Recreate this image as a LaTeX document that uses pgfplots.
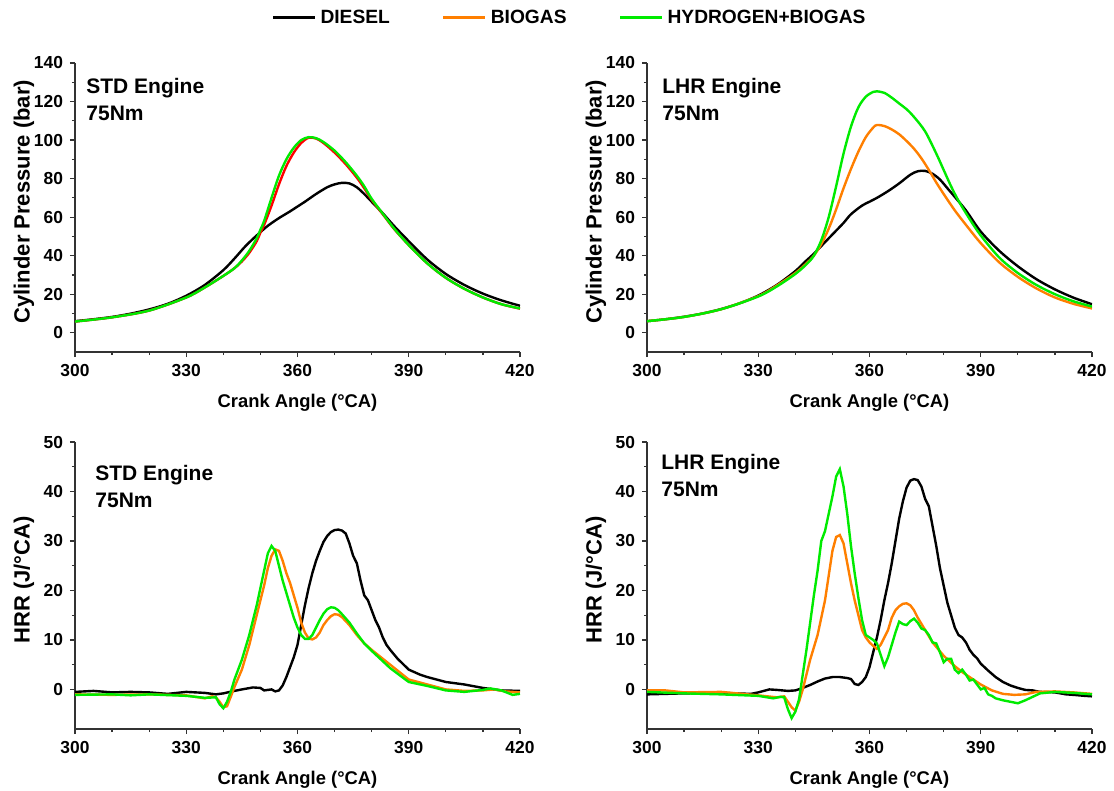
\documentclass[border=0pt]{standalone}
\usepackage{fontspec}
\setmainfont{Liberation Sans}
\usepackage{pgfplots}
\pgfplotsset{compat=1.18}
\definecolor{cOr}{RGB}{255,127,0}
\definecolor{cGr}{RGB}{0,235,0}
\definecolor{cRd}{RGB}{255,0,0}
\pgfplotsset{
 base/.style={
  scale only axis, width=222.5pt,
  xmin=300, xmax=420, xtick={300,330,...,420}, minor x tick num=2,
  axis x line=bottom, axis y line=left,
  axis line style={-, line width=0.6pt, black!80},
  tick align=outside, major tick length=2.5pt, minor tick length=1.5pt,
  tick style={line width=0.6pt, black!80},
  /pgf/number format/assume math mode=true,
  ticklabel style={font=\fontsize{8.7}{10}\selectfont\bfseries},
  every axis x label/.style={at={(axis description cs:0.5,0)}, anchor=north, yshift=-21pt, inner sep=0pt, font=\fontsize{9.2}{11}\selectfont\bfseries},
  every axis y label/.style={at={(axis description cs:-0.091,0.52)}, anchor=south, rotate=90, inner sep=0pt, font=\fontsize{11}{13}\selectfont\bfseries},
  xlabel={Crank Angle (°CA)},
  every axis plot/.append style={line width=1.2pt},
 },
 pres/.style={base, height=144.5pt, ymin=-10, ymax=140, ytick={0,20,...,140}, minor y tick num=1, ylabel={Cylinder Pressure (bar)}},
 hrr/.style={base, height=143.5pt, ymin=-8, ymax=50, ytick={0,10,...,50}, minor y tick num=1, ylabel={HRR (J/°CA)}},
}
\begin{document}
\begin{tikzpicture}
\path[use as bounding box] (0,0) rectangle (557pt,-395.5pt);
% ---------------- Top left: STD pressure
\begin{axis}[pres, at={(37.5pt,-176pt)}, anchor=south west,
  legend style={at={(axis description cs:1.1135,1.1557)}, anchor=center, draw=none, fill=none,
    font=\fontsize{9.6}{11}\selectfont\bfseries, legend columns=3,
    /tikz/every even column/.append style={column sep=24pt}},
  legend image code/.code={\draw[#1, line width=1.5pt] (0pt,0pt) -- (21pt,0pt);}]
\addlegendimage{black}\addlegendentry{DIESEL}
\addlegendimage{cOr}\addlegendentry{BIOGAS}
\addlegendimage{cGr}\addlegendentry{HYDROGEN+BIOGAS}
\addplot[black, smooth, forget plot] coordinates {(300,6.0)(305,7.0)(310,8.2)(315,9.9)(320,12.1)(325,15.0)(330,19.2)(335,24.8)(340,32.5)(343,38.5)(346,45)(349,50.5)(352,55.5)(355,59.5)(358,63)(360,65.5)(362,68)(365,72)(368,75.5)(370,77)(372,77.8)(374,77.5)(376,75.5)(378,72)(380,68)(383,62)(386,55.5)(390,47.5)(395,38)(400,30.5)(405,24.8)(410,20.3)(415,16.8)(420,14)};
\addplot[cRd, smooth, forget plot] coordinates {(300,5.8)(310,8)(320,11.5)(330,18.3)(335,23.5)(340,29.5)(343,33.5)(345,37)(347,41.5)(349,47.5)(350,52)(351,56)(353,66)(355,77)(357,86.5)(359,93.5)(361,98.5)(363,101.2)(365,100.8)(367,98.5)(370,93.5)(373,87.5)(376,80.5)(378,75)(380,69)(383,61.5)(386,54)(390,45.5)(395,36)(400,28.5)(405,22.8)(410,18.3)(415,14.8)(420,12.5)};
\addplot[cGr, smooth, forget plot] coordinates {(300,5.8)(310,8)(320,11.5)(330,18.3)(335,23.5)(340,29.5)(343,33.5)(345,37.5)(347,42.5)(349,49)(350,53.5)(351,58)(353,70)(355,81.5)(357,90)(359,96)(361,100)(363,101.5)(365,101)(367,99)(370,94.5)(373,88.5)(376,81.5)(378,76)(380,69.5)(383,61.8)(386,54.2)(390,45.5)(395,36)(400,28.5)(405,22.8)(410,18.3)(415,14.8)(420,12.6)};
\end{axis}
% ---------------- Top right: LHR pressure
\begin{axis}[pres, at={(323.5pt,-176pt)}, anchor=south west]
\addplot[black, smooth] coordinates {(300,6)(305,7)(310,8.3)(315,10)(320,12.3)(325,15.3)(330,19.3)(335,24.8)(340,32)(343,37.5)(345,41)(348,47)(350,51)(353,57)(355,61.5)(358,66)(360,68)(362,70)(365,73.5)(368,77.5)(371,82)(373,83.8)(375,84)(377,82.5)(379,79.5)(381,75)(383,70.5)(386,63.5)(390,52.5)(395,42.5)(400,34.5)(405,27.8)(410,22.5)(415,18.2)(420,14.8)};
\addplot[cOr, smooth] coordinates {(300,6)(310,8.2)(320,12.2)(330,19)(335,24.5)(340,31)(343,36)(345,40)(347,46)(349,54)(351,64)(353,75)(355,85)(357,94)(359,101.5)(361,106.5)(362,107.8)(364,107.3)(366,105.5)(368,103)(370,99.5)(372,95.5)(374,90.5)(376,84.5)(378,78)(380,72)(383,63.5)(386,56)(390,46.5)(395,36.5)(400,29)(405,23)(410,18.3)(415,15)(420,12.6)};
\addplot[cGr, smooth] coordinates {(300,6)(310,8.2)(320,12.2)(330,18.8)(335,24)(340,30.5)(343,35.5)(345,40)(347,48)(349,60)(351,76)(353,93)(355,107)(357,117)(359,122.5)(361,125)(362,125.3)(364,124.5)(366,122)(368,119)(370,116)(372,112)(375,104.5)(378,93)(380,84.5)(382,76)(384,68.5)(387,59)(390,50.5)(395,39)(400,31)(405,24.8)(410,20)(415,16.3)(420,13.6)};
\end{axis}
% ---------------- Bottom left: STD HRR
\begin{axis}[hrr, at={(37.5pt,-364.5pt)}, anchor=south west]
\addplot[black] coordinates {(300,-0.5)(305,-0.3)(310,-0.6)(315,-0.5)(320,-0.6)(325,-0.9)(330,-0.5)(335,-0.7)(338,-1.0)(340,-0.8)(343,-0.3)(345,0)(348,0.4)(350,0.3)(351,-0.2)(353,0)(354,-0.4)(355,-0.2)(356,0.8)(357,2.5)(358,4.5)(359,6.5)(360,9)(361,13)(362,17)(363,20.5)(364,23.5)(365,26)(366,28)(367,29.8)(368,31)(369,31.8)(370,32.2)(371,32.3)(372,32.1)(373,31.5)(374,29.5)(375,27)(376,25.5)(377,22)(378,19)(379,18)(380,16)(381,14)(382,12.5)(383,10.5)(384,9)(385,8)(387,6.2)(390,4)(393,3)(395,2.5)(400,1.5)(405,1)(410,0.3)(413,0)(415,-0.2)(420,-0.3)};
\addplot[cOr] coordinates {(300,-1)(310,-1.1)(320,-1)(330,-1.2)(335,-1.8)(337,-1.4)(338,-1.6)(339,-2.5)(340,-3.6)(341,-3.4)(342,-1.5)(343,0.5)(345,4)(347,9)(349,15)(351,21)(352,24.5)(353,27)(354,28.3)(355,28)(356,26)(357,23.5)(358,21.5)(359,19)(360,16.5)(361,13.5)(362,11.5)(363,10.3)(364,10.1)(365,10.5)(366,11.5)(367,13)(368,14)(369,14.8)(370,15.2)(371,15.1)(372,14.6)(374,13)(376,11)(378,9.3)(380,8)(385,5)(390,2)(395,1)(400,0)(405,-0.3)(410,-0.2)(413,0)(416,-0.4)(420,-0.6)};
\addplot[cGr] coordinates {(300,-1.1)(310,-1)(315,-1.2)(320,-1)(330,-1.3)(335,-1.7)(338,-1.6)(339,-3)(340,-3.8)(341,-2.5)(342,-0.5)(343,2)(345,6)(347,11)(349,17)(351,24)(352,27.5)(353,29)(354,28)(355,25)(356,22)(357,19.5)(358,17)(359,14.5)(360,12.5)(361,11)(362,10.2)(363,10.2)(364,11)(365,12.5)(366,14)(367,15.3)(368,16.2)(369,16.6)(370,16.5)(371,16)(372,15.2)(374,13.5)(376,11.3)(378,9.3)(380,7.8)(385,4.3)(390,1.5)(395,0.7)(400,-0.2)(405,-0.5)(410,-0.1)(412,0.2)(415,-0.2)(418,-1.1)(420,-0.9)};
\end{axis}
% ---------------- Bottom right: LHR HRR
\begin{axis}[hrr, at={(323.5pt,-364.5pt)}, anchor=south west]
\addplot[black] coordinates {(300,-1)(305,-0.9)(310,-0.8)(320,-0.7)(328,-0.9)(330,-0.6)(333,0)(335,-0.1)(338,-0.3)(340,-0.2)(342,0.3)(344,0.9)(346,1.6)(348,2.2)(350,2.5)(352,2.5)(354,2.3)(355,2.1)(356,1.1)(357,0.9)(358,1.5)(359,2.5)(360,4.5)(361,7.5)(362,10.5)(363,14)(364,18)(365,21.5)(366,25.5)(367,30)(368,34.5)(369,38)(370,40.8)(371,42.2)(372,42.5)(373,42.3)(374,41)(375,38.5)(376,37)(377,33)(378,29)(379,24.5)(380,21)(381,17.5)(382,15)(383,12.5)(384,11)(385,10.5)(386,9.5)(387,8)(388,7)(389,6.3)(390,5.2)(392,3.8)(394,2.5)(396,1.5)(398,0.8)(400,0.3)(402,-0.1)(404,-0.2)(406,-0.5)(410,-0.6)(413,-1)(415,-1.1)(418,-1.3)(420,-1.4)};
\addplot[cOr] coordinates {(300,-0.2)(305,-0.2)(310,-0.6)(320,-0.5)(330,-1.2)(335,-1.6)(337,-1.4)(338,-2.5)(339,-3.6)(340,-4.3)(341,-2.5)(342,0)(343,3)(344,6)(346,11)(348,18)(349,23)(350,28)(351,30.8)(352,31.2)(353,29.5)(354,25.5)(355,21.5)(356,18)(357,15)(358,12)(359,10.5)(360,9.5)(361,8.8)(362,8.2)(363,9)(364,10.5)(365,12)(366,14.5)(367,16)(368,16.8)(369,17.3)(370,17.4)(371,17)(372,16)(373,14.5)(375,12)(377,9.5)(380,6.8)(383,4.7)(385,3.5)(388,2)(390,1)(393,-0.2)(396,-0.9)(399,-1.1)(402,-1)(405,-0.5)(410,-0.4)(415,-0.6)(420,-0.9)};
\addplot[cGr] coordinates {(300,-0.5)(310,-0.8)(320,-1)(330,-1.3)(334,-1.8)(336,-1.5)(337,-1.6)(338,-4)(339,-5.8)(340,-4.5)(341,-2)(342,3)(343,8)(344,13.5)(345,19)(346,24)(347,30)(348,32)(349,35.5)(350,39)(351,43)(352,44.5)(353,41)(354,35.5)(355,29)(356,23.5)(357,18.5)(358,14)(359,11)(360,10.5)(361,10)(362,9.3)(363,7)(364,4.7)(365,6.5)(366,9)(367,11.5)(368,13.7)(369,13.2)(370,13)(371,13.8)(372,14.3)(373,13.5)(374,12.3)(375,12)(376,11)(377,9.5)(378,9.3)(379,7.5)(380,5.5)(381,6.2)(382,6.2)(383,4)(384,3.3)(385,4)(386,3)(387,1.8)(388,2)(389,1)(390,0)(391,0.3)(392,-1)(393,-1.3)(394,-1.8)(396,-2.2)(398,-2.5)(400,-2.8)(401,-2.5)(402,-2.2)(404,-1.5)(406,-0.8)(410,-0.5)(415,-0.7)(420,-1)};
\end{axis}
\begin{scope}[every node/.style={anchor=north west, inner sep=0pt, align=left, font=\fontsize{10.5}{13.5}\selectfont\bfseries}]
\node at (43pt,-39pt) {STD Engine\\75Nm};
\node at (331pt,-39pt) {LHR Engine\\75Nm};
\node at (47.5pt,-232.5pt) {STD Engine\\75Nm};
\node at (330.5pt,-227pt) {LHR Engine\\75Nm};
\end{scope}
\end{tikzpicture}
\end{document}
